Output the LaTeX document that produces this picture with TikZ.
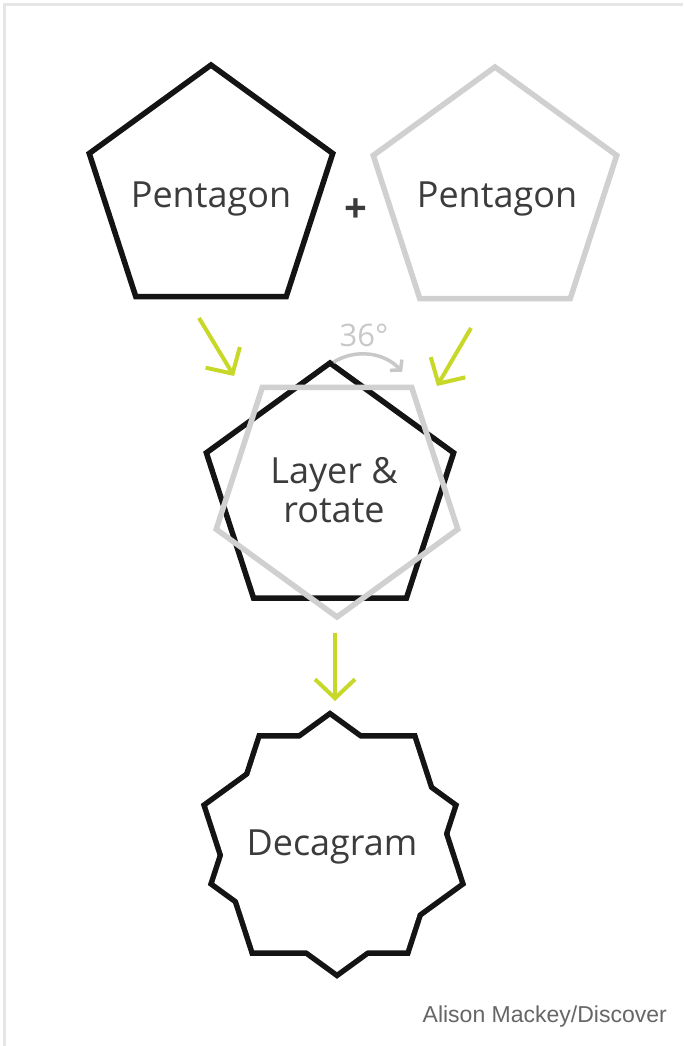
\documentclass[tikz,border=0pt]{standalone}
\usepackage{fontspec}
\setmainfont{Open Sans}
\newfontfamily\creditfont{Liberation Sans}
\usetikzlibrary{arrows.meta}

\definecolor{ink}{HTML}{3C3C3C}
\definecolor{edge}{HTML}{141414}
\definecolor{ghost}{HTML}{D0D0D0}
\definecolor{turngray}{HTML}{C8C8C8}
\definecolor{lime}{RGB}{200,216,40}
\definecolor{framegray}{HTML}{E6E6E6}
\definecolor{creditgray}{HTML}{666666}

% regular pentagon: [style]{cx}{cy}{radius}{angle of first vertex}
\newcommand\pentshape[5][]{%
  \draw[#1,shift={(#2,#3)}] (#5:#4) -- ({#5+72}:#4) -- ({#5+144}:#4)
    -- ({#5+216}:#4) -- ({#5+288}:#4) -- cycle;}

\tikzset{
  solidpent/.style={draw=edge, line width=5.5pt, line join=miter},
  ghostpent/.style={draw=ghost, line width=5.5pt, line join=miter},
  shapetext/.style={font=\fontsize{36}{39}\selectfont, text=ink, align=center, inner sep=0pt},
  flow/.style={draw=lime, line width=4pt,
    -{Straight Barb[length=19pt,width=40pt,line width=4pt]}},
  turn/.style={draw=turngray, line width=3.5pt,
    -{Straight Barb[length=7pt,width=16pt,line width=3.5pt]}},
}

\begin{document}
\begin{tikzpicture}[x=1pt,y=-1pt]
  \useasboundingbox (0,0) rectangle (683,1046);
  \fill[white] (0,0) rectangle (683,1046);

  % frame edges
  \draw[framegray, line width=3pt] (4.5,4.5) -- (683,4.5);
  \draw[framegray, line width=3pt] (4.7,3) -- (4.7,1046);

  % the two pentagons
  \pentshape[solidpent]{211}{193}{128}{-90}
  \pentshape[ghostpent]{495}{195}{128}{-90}
  \node[shapetext, anchor=base] (penA) at (211,207) {Pentagon};
  \node[shapetext, anchor=base] (penB) at (497,207) {Pentagon};
  \node[font=\bfseries\fontsize{40}{40}\selectfont, text=ink, inner sep=0pt] (plus) at (355.5,211) {+};

  % layered pair, second one turned by 36 degrees
  \pentshape[solidpent]{330}{493}{130}{-90}
  \pentshape[ghostpent]{337}{490}{127}{90}
  \node[shapetext] (layer) at (334,490) {Layer \&\\rotate};

  % rotation mark
  \coordinate (turnStart) at (333.4,362.2);
  \draw[turn] (turnStart) arc[start angle=-122, end angle=-42, radius=54];
  \node[font=\fontsize{31}{31}\selectfont, text=turngray, anchor=base, inner sep=0pt]
    (angle) at (364,346) {36°};

  % flow arrows
  \coordinate (aStart) at (199,318);
  \coordinate (aTip) at (234,376);
  \coordinate (bStart) at (471,328);
  \coordinate (bTip) at (437,386);
  \coordinate (cStart) at (335,633);
  \coordinate (cTip) at (335,701);
  \draw[flow] (aStart) -- (aTip);
  \draw[flow] (bStart) -- (bTip);
  \draw[flow] (cStart) -- (cTip);

  % decagram: outline of the union of two pentagons
  \pentshape[draw=edge, line width=11pt, line join=miter]{330}{846}{129}{-90}
  \pentshape[draw=edge, line width=11pt, line join=miter]{337}{843}{129}{90}
  \pentshape[fill=white, draw=none]{330}{846}{129}{-90}
  \pentshape[fill=white, draw=none]{337}{843}{129}{90}
  \node[shapetext, anchor=base] (deca) at (332,855) {Decagram};

  % credit line
  \node[font=\creditfont\fontsize{23}{23}\selectfont, text=creditgray,
    anchor=base east, inner sep=0pt] (credit) at (667,1022) {Alison Mackey/Discover};
\end{tikzpicture}
\end{document}
